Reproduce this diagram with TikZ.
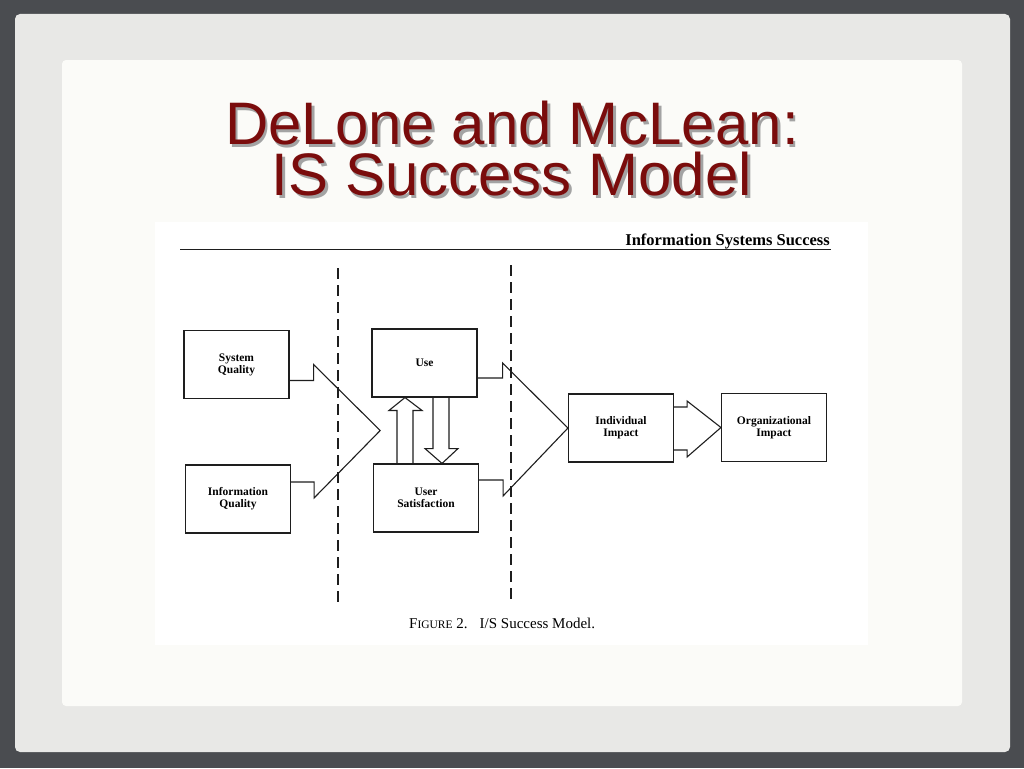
\documentclass[tikz,border=0pt]{standalone}
\usepackage{fontspec}
\setmainfont{Liberation Serif}
\newfontfamily\titlefont{Liberation Sans}
\usepackage{tikz}
\usetikzlibrary{positioning,calc}
\definecolor{slbg}{HTML}{4A4C50}
\definecolor{slpanel}{HTML}{E8E8E6}
\definecolor{slpage}{HTML}{FBFBF8}
\definecolor{ttlred}{HTML}{7A0C0C}
\definecolor{ttlshade}{HTML}{A3A3A3}
\definecolor{inkgray}{HTML}{1E1E1E}
\newcommand\shadeline[1]{\leavevmode\rlap{\kern2.5pt\raisebox{-2.5pt}{\color{ttlshade}#1}}#1}

\begin{document}
\begin{tikzpicture}[x=1pt, y=-1pt,
   box/.style={draw=inkgray, line width=1.1pt, minimum width=105pt,
               minimum height=68pt, inner sep=0pt, align=center,
               font=\bfseries\fontsize{11.5}{12}\selectfont},
   flow/.style={draw=inkgray, line width=1.1pt, line join=miter},
   divider/.style={draw=inkgray, line width=1.1pt, dash pattern=on 11pt off 6pt},
   ttl/.style={align=center, inner sep=0pt, anchor=north, text=ttlred,
               font=\titlefont\fontsize{60}{51}\selectfont}]
  \useasboundingbox (0,0) rectangle (1024,768);
  \fill[slbg] (0,0) rectangle (1024,768);
  \fill[slpanel, rounded corners=5pt] (15,14) rectangle (1010,752);
  \fill[slpage, rounded corners=4pt] (62,60) rectangle (962,706);
  \fill[white] (155,222) rectangle (868,645);

  \node[ttl] (ttl) at (512,101) {\shadeline{DeLone and McLean:}\\\shadeline{IS Success Model}};

  \node[anchor=base east, inner sep=0pt, font=\bfseries\fontsize{16.5}{18}\selectfont]
    (head) at (830,245) {Information Systems Success};
  \draw[inkgray, line width=1pt] (180,249) -- (831,249);

  \node[box] (sysq) at (236.5,364.5) {System\\Quality};
  \node[box] (infoq) at (238,499) {Information\\Quality};
  \node[box] (use) at (424.5,363) {Use};
  \node[box] (usat) at (426,498) {User\\Satisfaction};
  \node[box] (indiv) at (621,428) {Individual\\Impact};
  \node[box] (org) at (774,427.5) {Organizational\\Impact};

  \draw[divider] (338,268) -- (338,603);
  \draw[divider] (511,265) -- (511,600);

  \coordinate (tip1) at ($(use.south west)!0.5!(usat.north west)+(8,0)$);
  \draw[flow] ($(sysq.east)+(0,16)$) -| ($(sysq.east)+(24,0)$) -- (tip1)
    -- ($(infoq.east)+(23,-1)$) |- ($(infoq.east)+(0,-17)$);
  \draw[flow] ($(use.east)+(0,15)$) -| ($(use.east)+(25,0)$) -- (indiv.west)
    -- ($(usat.east)+(24,-2)$) |- ($(usat.east)+(0,-18)$);
  \draw[flow] ($(indiv.east)+(0,-21)$) -| ($(indiv.east)+(13,-27)$) -- (org.west)
    -- ($(indiv.east)+(13,29)$) |- ($(indiv.east)+(0,22)$);

  \draw[flow] ($(usat.north)+(-29,0)$) -- ++(0,-53) -- ++(-8,0)
    -- ($(use.south)+(-19.5,0)$) -- ($(usat.north)+(-4,-53)$) -- ++(-9,0)
    -- ($(usat.north)+(-13,0)$);
  \draw[flow] ($(use.south)+(8.5,0)$) -- ++(0,51) -- ++(-8,0)
    -- ($(usat.north)+(16,0)$) -- ($(use.south)+(33.5,51)$) -- ++(-9,0)
    -- ($(use.south)+(24.5,0)$);

  \node[anchor=base west, inner sep=0pt, font=\fontsize{15}{15}\selectfont]
    (cap) at (409,628) {F{\fontsize{11.5}{12}\selectfont IGURE} 2.\hspace{12pt}I/S Success Model.};
\end{tikzpicture}
\end{document}
